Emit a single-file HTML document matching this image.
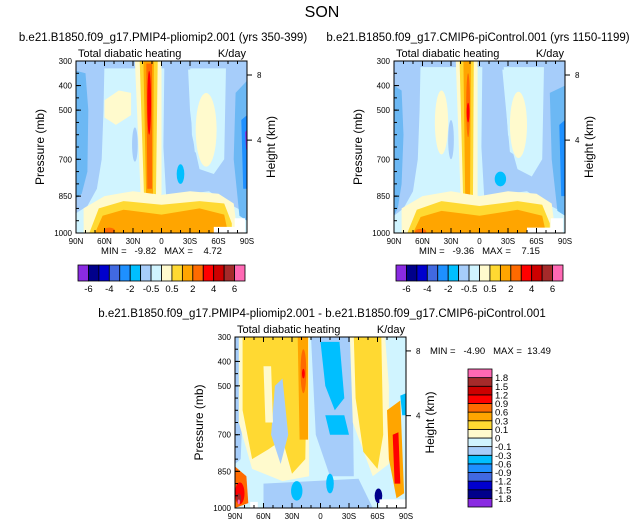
<!DOCTYPE html>
<html><head><meta charset="utf-8">
<style>
body{margin:0;background:#fff;}
svg{display:block;font-family:"Liberation Sans",sans-serif;}
text{white-space:pre;}
</style></head>
<body>
<svg id="c" width="643" height="528" viewBox="0 0 643 528" xmlns="http://www.w3.org/2000/svg">
<text x="322" y="17" font-size="16" text-anchor="middle">SON</text>
</svg>
<script>
// ---- data ----
const latTicks = [90, 60, 30, 0, -30, -60, -90];
const latTickLabels = ['90N','60N','30N','0','30S','60S','90S'];
const presTicks = [300, 400, 500, 700, 850, 1000];
const heightTicks = [357, 622];
const heightTickLabels = ['8','4'];
const absColors = ['#8a2be2','#00008b','#0000cd','#4169e1','#1e90ff','#00bfff','#a6cdfa','#d0f4ff','#fffacd','#ffd932','#ffa500','#ff6a00','#ff0000','#cd0000','#a52a2a','#ff69b4'];
const absLabels = ['-6','-4','-2','-0.5','0.5','2','4','6'];
const diffLabels = ['1.8','1.5','1.2','0.9','0.6','0.3','0.1','0','-0.1','-0.3','-0.6','-0.9','-1.2','-1.5','-1.8'];
const P = '#d0f4ff', LB = '#a6cdfa', MB = '#6cb8f4', DS = '#00bfff', DG = '#1e90ff', RB='#4169e1', NV='#00008b', PU = '#8a2be2', LY = '#fffacd', GD = '#ffd932', OR = '#ffa500', DO = '#ff6a00', RD = '#ff0000', DR='#cd0000', BR='#a52a2a', PK='#ff69b4', WH='#ffffff';
const field1 = [
 [P, [[90,300],[-90,300],[-90,1000],[90,1000]]],
 [LB, [[90,300],[-90,300],[-90,330],[90,330]]],
 [LB, [[90,300],[60,300],[61,500],[63,700],[68,820],[78,890],[90,920]]],
 [MB, [[90,340],[80,350],[77,500],[78,750],[84,840],[90,860]]],
 [LB, [[-3,300],[-30,300],[-32,600],[-40,740],[-55,760],[-66,700],[-68,300],[-90,300],[-90,920],[-70,880],[-50,830],[-20,845],[-5,860],[-2,650]]],
 [P, [[-28,335],[-64,335],[-65,640],[-52,720],[-35,670],[-30,500]]],
 [LY, 'e', -47, 580, 11, 150],
 [MB, [[-78,430],[-90,380],[-90,950],[-82,930],[-76,700]]],
 [DG, [[-84,540],[-90,520],[-90,820],[-86,820]]],
 [PU, [[-88,590],[-90,580],[-90,660],[-89,660]]],
 [DS, 'e', -20, 760, 4, 40],
 [LB, 'e', 28, 640, 3, 70],
 [LY, [[60,460],[45,420],[32,430],[32,520],[48,560],[60,530]]],
 [LY, [[28,300],[0,300],[0,840],[8,950],[20,950],[22,840]]],
 [GD, [[23,300],[4,300],[6,900],[18,900]]],
 [OR, [[19,300],[8,300],[9,880],[16,880]]],
 [DO, [[16,310],[10,310],[10,820],[15,820]]],
 [RD, 'e', 13, 470, 2, 130],
 [LY, [[82,1000],[82,900],[60,850],[30,830],[0,845],[-30,830],[-60,840],[-76,880],[-80,1000]]],
 [GD, [[76,1000],[66,900],[40,870],[0,885],[-40,870],[-66,880],[-74,960],[-74,1000]]],
 [OR, [[70,1000],[62,930],[40,905],[20,915],[0,925],[-40,900],[-66,925],[-70,1000]]],
 [DO, 'e', 55, 990, 6, 12],
 [P, [[90,920],[82,960],[82,1000],[90,1000]]],
 [WH, [[-55,975],[-77,975],[-77,940],[-88,940],[-88,1000],[-55,1000]]]
];
const field2 = [
 [P, [[90,300],[-90,300],[-90,1000],[90,1000]]],
 [LB, [[90,300],[-90,300],[-90,325],[90,325]]],
 [LB, [[90,300],[62,300],[63,500],[65,700],[70,830],[80,900],[90,930]]],
 [MB, [[90,400],[82,420],[80,600],[82,800],[86,900],[90,930]]],
 [LB, [[-3,300],[-25,300],[-30,600],[-40,740],[-55,770],[-66,700],[-68,300],[-90,300],[-90,920],[-70,880],[-50,830],[-20,845],[-5,860],[-2,650]]],
 [P, [[-24,335],[-64,335],[-66,660],[-52,720],[-32,670],[-28,500]]],
 [LY, 'e', -41, 560, 9, 135],
 [P, [[56,330],[24,330],[24,700],[40,760],[56,700]]],
 [LB, 'e', 30, 620, 3, 80],
 [LY, 'e', 40, 550, 7, 130],
 [MB, [[-74,430],[-90,400],[-90,930],[-82,910],[-76,700]]],
 [DG, [[-84,560],[-90,540],[-90,850],[-86,850]]],
 [DS, 'e', -22, 780, 6, 30],
 [LY, [[25,300],[2,300],[2,850],[10,950],[20,950],[20,840]]],
 [GD, [[21,300],[6,300],[7,900],[17,900]]],
 [OR, [[17,300],[9,300],[10,880],[15,880]]],
 [DO, 'e', 12, 480, 2, 130],
 [RD, 'e', 12, 510, 1.5, 40],
 [LY, [[82,1000],[82,900],[60,850],[30,830],[0,850],[-30,830],[-60,840],[-76,880],[-80,1000]]],
 [GD, [[76,1000],[66,905],[40,870],[0,890],[-40,870],[-66,885],[-74,960],[-74,1000]]],
 [OR, [[70,1000],[62,935],[40,910],[20,920],[0,930],[-40,905],[-66,930],[-70,1000]]],
 [DO, 'e', 62, 995, 6, 12],
 [P, [[90,930],[82,970],[82,1000],[90,1000]]],
 [WH, [[-50,978],[-75,978],[-75,940],[-88,940],[-88,1000],[-50,1000]]]
];
const field3 = [
 [P, [[90,300],[-90,300],[-90,1000],[90,1000]]],
 [LB, [[90,300],[84,300],[82,600],[84,800],[90,820]]],
 [LY, [[86,300],[12,300],[12,870],[40,890],[72,840],[86,650]]],
 [GD, [[82,300],[14,300],[16,800],[30,860],[40,720],[55,760],[72,800],[82,600]]],
 [LB, [[48,500],[40,470],[34,700],[42,820],[52,700]]],
 [LY, [[60,420],[52,420],[50,650],[58,650]]],
 [OR, [[24,300],[13,300],[13,720],[22,720]]],
 [DO, 'e', 18, 440, 3, 90],
 [RD, 'e', 18, 450, 1.5, 20],
 [LB, [[10,300],[-33,300],[-35,870],[-10,870],[5,700]]],
 [DS, [[0,320],[-20,320],[-25,550],[-15,600],[-5,500]]],
 [DS, [[-5,620],[-25,620],[-30,700],[-10,700]]],
 [LY, [[-31,300],[-68,300],[-72,500],[-72,820],[-55,870],[-34,650]]],
 [GD, [[-35,300],[-64,300],[-66,700],[-60,840],[-45,770],[-37,550]]],
 [OR, [[-70,600],[-84,560],[-88,940],[-80,960],[-72,800]]],
 [RD, [[-76,700],[-82,690],[-84,900],[-78,900]]],
 [DS, [[-84,540],[-90,530],[-90,620],[-86,620]]],
 [LB, [[60,900],[-40,880],[-55,1000],[60,1000]]],
 [DS, 'e', 25, 930, 6, 40],
 [DS, 'e', -10, 900, 4, 40],
 [NV, 'e', -61, 950, 4, 30],
 [DO, [[90,830],[78,870],[76,980],[90,1000]]],
 [RD, 'e', 85, 940, 5, 45],
 [BR, 'e', 86, 960, 2.5, 20],
 [PK, 'e', 86, 975, 1.2, 10],
 [WH, [[-62,965],[-90,965],[-90,1000],[-62,1000]]],
 [WH, [[74,975],[66,975],[66,1000],[74,1000]]]
];

const NS = 'http://www.w3.org/2000/svg';
const svg = document.getElementById('c');
function mk(tag, attrs, parent) {
  const e = document.createElementNS(NS, tag);
  for (const k in attrs) e.setAttribute(k, attrs[k]);
  (parent || svg).appendChild(e);
  return e;
}
function txt(s, x, y, size, anchor, parent) {
  const t = mk('text', {x: x, y: y, 'font-size': size, 'text-anchor': anchor || 'middle'}, parent);
  t.textContent = s; return t;
}

function panel(x0, y0, W, H, field, id, title, titleX, minmax) {
  const g = mk('g', {});
  
  
  const xs = lat => x0 + (90 - lat) / 180 * W;
  const ys = p => y0 + (p - 300) / 700 * H;
  const clip = mk('clipPath', {id: id + '-clip'}, g);
  mk('rect', {x: x0, y: y0, width: W, height: H}, clip);
  const fg = mk('g', {'clip-path': 'url(#' + id + '-clip)'}, g);
  
  
  field.forEach(r => {
    let el;
    if (r[1] === 'e') {
      el = mk('ellipse', {cx: xs(r[2]), cy: ys(r[3]), rx: Math.abs(xs(r[2] + r[4]) - xs(r[2])), ry: ys(r[3] + r[5]) - ys(r[3]), fill: r[0]}, fg);
    } else {
      el = mk('polygon', {points: r[1].map(q => xs(q[0]).toFixed(1) + ',' + ys(q[1]).toFixed(1)).join(' '), fill: r[0]}, fg);
    }
    
    
  });
  const fr = mk('rect', {x: x0, y: y0, width: W, height: H, fill: 'none', stroke: '#000', 'stroke-width': 1}, g);
  
  
  for (let lat = 90; lat >= -90; lat -= 10) {
    const maj = lat % 30 === 0, L = maj ? 5 : 3, x = xs(lat);
    mk('line', {x1: x, y1: y0 + H, x2: x, y2: y0 + H - L, stroke: '#000'}, g);
    mk('line', {x1: x, y1: y0, x2: x, y2: y0 + L, stroke: '#000'}, g);
  }
  latTicks.forEach((lat, i) => {
    const t = txt(latTickLabels[i], xs(lat), y0 + H + 11, 8, 'middle', g);
    
    
  });
  for (let p = 300; p <= 1000; p += 50) {
    mk('line', {x1: x0, y1: ys(p), x2: x0 + 3, y2: ys(p), stroke: '#000'}, g);
  }
  presTicks.forEach(p => {
    mk('line', {x1: x0, y1: ys(p), x2: x0 + 5, y2: ys(p), stroke: '#000'}, g);
    const t = txt(String(p), x0 - 4, ys(p) + 3, 8, 'end', g);
    
    
  });
  heightTicks.forEach((p, i) => {
    mk('line', {x1: x0 + W, y1: ys(p), x2: x0 + W + 5, y2: ys(p), stroke: '#000'}, g);
    const t = txt(heightTickLabels[i], x0 + W + 10, ys(p) + 3, 8, 'start', g);
    
    
  });
  const yt = txt('Pressure (mb)', 0, 0, 12, 'middle', g);
  yt.setAttribute('transform', 'translate(' + (x0 - 32) + ',' + (y0 + H / 2) + ') rotate(-90)');
  
  
  const ht = txt('Height (km)', 0, 0, 12, 'middle', g);
  ht.setAttribute('transform', 'translate(' + (x0 + W + 28) + ',' + (y0 + H / 2) + ') rotate(-90)');
  
  
  const lt = txt('Total diabatic heating', x0 + 2, y0 - 4, 11, 'start', g);
  
  
  const ut = txt('K/day', x0 + W - 1, y0 - 4, 11, 'end', g);
  
  
  const tt = txt(title, titleX, y0 - 20, 11.5, 'middle', g);
  
  
  if (minmax) {
    const mm = txt(minmax, x0 + W / 2, y0 + H + 21, 9.5, 'middle', g);
    
    
  }
}

function hbar(x0, y0, W, H, id) {
  const g = mk('g', {});
  
  
  const bw = W / absColors.length;
  absColors.forEach((c, i) => {
    const r = mk('rect', {x: x0 + i * bw, y: y0, width: bw, height: H, fill: c, stroke: '#000', 'stroke-width': 0.8}, g);
    
    
  });
  absLabels.forEach((s, i) => {
    const t = txt(s, x0 + (2 * i + 1) * bw, y0 + H + 11, 9.5, 'middle', g);
    
    
  });
}
function vbar(x0, y0, W, H, id) {
  const g = mk('g', {});
  
  
  const n = absColors.length, bh = H / n;
  absColors.forEach((c, i) => {
    const r = mk('rect', {x: x0, y: y0 + (n - 1 - i) * bh, width: W, height: bh, fill: c, stroke: '#000', 'stroke-width': 0.8}, g);
    
    
  });
  diffLabels.forEach((s, i) => {
    const t = txt(s, x0 + W + 3, y0 + (i + 1) * bh + 3.5, 9.5, 'start', g);
    
    
  });
}

panel(76, 61, 171, 172, field1, 'pliomip-panel', 'b.e21.B1850.f09_g17.PMIP4-pliomip2.001 (yrs 350-399)', 163, 'MIN =   -9.82   MAX =    4.72');
panel(394, 61, 171, 172, field2, 'picontrol-panel', 'b.e21.B1850.f09_g17.CMIP6-piControl.001 (yrs 1150-1199)', 478, 'MIN =   -9.36   MAX =    7.15');
panel(235, 337, 171, 171, field3, 'difference-panel', 'b.e21.B1850.f09_g17.PMIP4-pliomip2.001 - b.e21.B1850.f09_g17.CMIP6-piControl.001', 322, null);
hbar(78, 265, 167, 16, 'colorbar-left');
hbar(396, 265, 167, 16, 'colorbar-right');
vbar(468, 369, 24, 138, 'colorbar-difference');
const dm = txt('MIN =   -4.90   MAX =  13.49', 430, 354, 9.5, 'start');


</script>
</body></html>
